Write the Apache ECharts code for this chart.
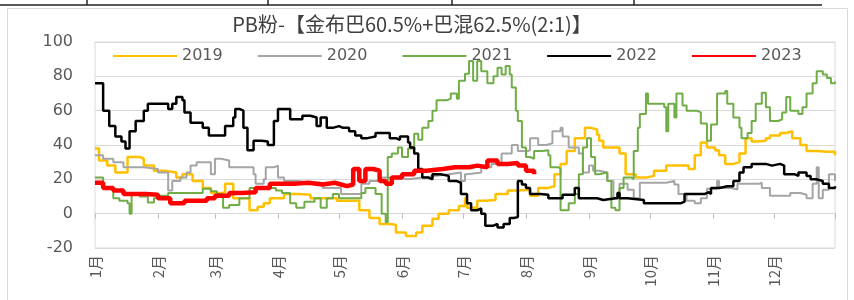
<!DOCTYPE html>
<html>
<head>
<meta charset="utf-8">
<script src="https://cdn.jsdelivr.net/npm/echarts@6/dist/echarts.min.js"></script>
<style>html,body{margin:0;padding:0;background:#fff;}#c{width:854px;height:300px;}</style>
</head>
<body>
<div id="c"></div>
<script>
const titleText = 'PB粉-【金布巴60.5%+巴混62.5%(2:1)】';
const seriesNames = ['2019', '2020', '2021', '2022', '2023'];
const monthLabels = ['1月','2月','3月','4月','5月','6月','7月','8月','9月','10月','11月','12月'];
const monthStarts = [0,31,59,90,120,151,181,212,243,273,304,334];
const yTicks = [-20, 0, 20, 40, 60, 80, 100];
const dayCount = 365;

// [day of year, value]
const s2019 = [[0,38],[2,31],[6,28],[10,24],[15,24],[16,33],[22,32],[24,28],[29,25],[34,24],[40,21],[43,23],[48,19],[53,15],[57,12],[60,12],[64,17.5],[68,9],[73,9],[76,2],[80,4],[83,6],[86,9],[90,9],[93,11.5],[100,11],[106,9],[113,9],[119,7.5],[125,7.5],[130,2],[135,-2.5],[140,-6],[145,-6.5],[148,-11],[153,-13],[158,-11],[161,-7],[166,-3],[169,0],[174,2],[179,4.5],[182,9],[183,3.5],[188,7.5],[192,8],[197,11.5],[203,13.5],[208,14],[214,10.5],[218,15],[223,16],[226,23],[229,29],[232,36.5],[236,44],[241,50],[244,49],[247,46],[248,42.5],[250,38.5],[255,38.5],[258,35],[261,23],[264,23],[266,21],[271,22],[275,25],[281,28],[288,28],[292,26],[295,34],[298,41.5],[301,38.5],[305,37],[307,34],[310,29],[314,30],[317,35],[320,44],[323,42],[325,42.5],[330,44],[332,45.5],[337,47],[340,48],[343,44],[347,40],[350,36.5],[355,36],[360,36],[364,34]];
const s2020 = [[0,34],[4,32],[9,30],[14,27],[20,27],[24,26],[31,24],[35,24],[36,13.5],[38,19],[40,19],[42,21],[45,24],[47,28],[50,30],[55,30],[57,23],[59,32],[62,31],[66,27],[72,27],[78,23],[79,17.5],[83,20],[84,27],[88,28],[90,21],[93,19],[100,18],[106,18],[112,15],[118,15],[121,11.5],[126,11.5],[131,17.5],[135,19],[141,21],[148,20],[154,21],[161,22],[167,23],[174,24],[180,19],[182,23],[183,24],[190,27],[195,29],[200,35],[205,40],[208,36.5],[213,37],[214,44],[218,40],[222,41],[225,48],[229,50],[230,45],[233,38.5],[238,35],[240,24],[243,28],[245,25],[248,24],[252,19],[255,9],[258,17.5],[262,14],[265,9],[268,18],[276,18],[281,19],[285,17],[287,11.5],[291,7.5],[295,6],[298,9],[301,14.5],[306,19],[307,15],[313,14],[316,17.5],[323,17.5],[327,18],[328,15],[332,10.5],[337,10.5],[342,12],[347,11],[350,9],[353,17.5],[355,27],[356,9],[358,14],[361,23],[364,19]];
const s2021 = [[0,21],[4,15],[9,9],[12,7.5],[16,6],[17,0],[18,11.5],[22,10],[26,6.5],[29,9],[32,10.5],[36,12],[43,12],[50,12],[53,14.5],[57,13],[60,11.5],[63,3.5],[66,5],[69,5],[71,9],[76,15],[81,15],[86,15],[89,13.5],[92,12],[96,6],[99,3.5],[103,7],[108,9],[111,3.5],[114,9],[117,11.5],[120,9],[126,9],[131,12],[133,15],[136,15],[138,11.5],[141,0],[143,-5],[144,33],[146,35],[149,38.5],[151,33],[154,38],[157,46.5],[159,43],[161,50],[164,54],[166,60],[168,66],[173,67],[175,70],[178,67],[179,77.5],[182,81.5],[184,89],[186,77.5],[188,89],[190,83],[193,76],[196,80],[198,85],[200,81],[202,86],[204,81],[205,73.5],[207,60],[208,54],[210,38.5],[212,33],[214,32],[216,36.5],[220,37],[223,34],[224,27],[228,26],[229,2],[233,6],[236,11.5],[238,23],[240,38.5],[242,44],[244,33],[246,23],[248,24],[252,19],[254,3.5],[256,2],[258,15],[260,21],[264,20],[265,36.5],[267,50],[268,58],[271,70],[272,64],[280,62],[281,48],[282,64],[285,56],[286,70],[289,63],[291,60],[296,59],[298,52.5],[301,42.5],[303,52],[306,70],[310,71.5],[311,64],[314,56],[317,50],[318,44],[321,47],[323,54],[325,64],[328,70.5],[330,62],[332,54],[336,55],[338,59],[340,68],[342,60],[346,58],[348,62],[350,70],[353,76],[355,83],[358,81],[360,79],[362,76],[364,77]];
const s2022 = [[0,76],[4,60],[7,51],[10,45],[13,42],[15,38],[17,48],[20,54],[22,54],[24,60],[26,64],[35,64],[36,61],[38,64],[40,68],[43,66],[44,59],[47,53],[50,53],[53,50],[56,45.5],[60,45.5],[64,51],[68,56],[69,61],[71,60],[73,50],[75,37],[78,42.5],[82,42],[85,40],[88,54],[90,61],[95,61],[96,55],[100,55],[102,57],[106,56],[109,51],[111,56],[114,50],[117,51],[120,50],[122,50],[125,48],[128,45.5],[131,44],[134,45],[138,47],[141,47],[145,44],[148,43],[150,45],[154,41.5],[155,38.5],[157,35],[159,26],[161,21],[164,20],[166,23],[170,22],[174,19],[178,18],[180,11.5],[183,6],[185,2],[188,3],[190,0],[192,-7],[196,-6],[198,-8],[201,-6],[204,-2.5],[206,-2],[208,19],[210,17],[212,15],[214,11.5],[219,11],[223,9],[230,11],[235,11],[236,15],[238,9],[247,8],[250,9],[256,9],[257,12],[258,9],[262,8],[270,6],[285,6],[288,7],[290,11.5],[295,11.5],[300,12.5],[302,11.5],[303,15],[307,16],[311,16],[314,19],[317,24],[319,27],[323,29],[330,28],[333,29],[337,28],[339,23],[344,22],[346,24],[350,22],[352,20],[355,19],[358,17.5],[361,15],[364,16]];
const s2023 = [[0,18],[4,15],[9,13.5],[14,11.5],[20,11.5],[25,11],[31,9],[37,6],[44,7.5],[50,7.5],[55,9],[59,10.5],[66,12],[72,12.5],[79,15],[86,17.5],[92,17.5],[99,18],[105,17],[112,18],[118,17],[121,16],[124,17],[127,26],[130,19],[133,26],[137,25],[140,19],[143,17.5],[146,21],[151,23],[157,25],[163,26],[171,27],[177,27],[184,28],[188,27],[193,31],[198,29],[203,29.5],[208,28],[212,25],[216,23]];

const seriesData = [s2019, s2020, s2021, s2022, s2023];
const colors = ['#FFC000', '#A5A5A5', '#70AD47', '#000000', '#FF0000'];
const widths = [2.5, 2, 2, 2.5, 4.5];

const categories = [];
for (let i = 0; i < dayCount; i++) categories.push('d' + i);

const chart = echarts.init(document.getElementById('c'), null, { renderer: 'canvas' });
chart.setOption({
  animation: false,
  backgroundColor: '#fff',
  title: {
    text: titleText,
    left: 407,
    textAlign: 'center',
    top: 9,
    textStyle: { fontFamily: 'Noto Sans CJK SC', fontSize: 20, fontWeight: 'normal', color: '#404040' }
  },
  legend: {
    data: seriesNames,
    left: 107,
    top: 43,
    itemWidth: 64,
    itemHeight: 12,
    itemGap: 34,
    itemStyle: { opacity: 0 },
    textStyle: { fontFamily: 'DejaVu Sans', fontSize: 16, color: '#595959' }
  },
  grid: {
    left: 95, right: 19, top: 42, bottom: 52,
    containLabel: false,
    outerBoundsMode: 'none',
    show: true, borderColor: '#d9d9d9', borderWidth: 1
  },
  xAxis: {
    type: 'category',
    data: categories,
    boundaryGap: false,
    axisLine: { onZero: true, lineStyle: { color: '#d9d9d9' } },
    axisTick: {
      show: true, length: 5, lineStyle: { color: '#bfbfbf' },
      interval: (idx) => monthStarts.indexOf(idx) >= 0 || idx === dayCount - 1
    },
    axisLabel: {
      interval: (idx) => monthStarts.indexOf(idx) >= 0,
      formatter: (val, idx) => {
        const m = monthStarts.indexOf(idx);
        return m >= 0 ? monthLabels[m] : '';
      },
      rotate: 90,
      margin: 7,
      fontFamily: 'Noto Sans CJK SC',
      fontSize: 15,
      color: '#595959'
    },
    splitLine: { show: false }
  },
  yAxis: {
    type: 'value',
    min: yTicks[0],
    max: yTicks[yTicks.length - 1],
    interval: 20,
    axisLine: { show: false },
    axisTick: { show: false },
    axisLabel: { margin: 22, fontFamily: 'DejaVu Sans', fontSize: 16, color: '#595959' },
    splitLine: { lineStyle: { color: '#d9d9d9', width: 1 } }
  },
  graphic: [
    { type: 'rect', shape: { x: 7.5, y: 8.5, width: 840, height: 295 }, style: { fill: 'none', stroke: '#d9d9d9', lineWidth: 1 }, silent: true, z: -10 },
    { type: 'line', shape: { x1: 0, y1: 5, x2: 822, y2: 5 }, style: { stroke: '#222', lineWidth: 1.5 }, silent: true },
    { type: 'line', shape: { x1: 87, y1: 0, x2: 87, y2: 5 }, style: { stroke: '#222', lineWidth: 1.5 }, silent: true },
    { type: 'line', shape: { x1: 268, y1: 0, x2: 268, y2: 5 }, style: { stroke: '#222', lineWidth: 1.5 }, silent: true },
    { type: 'line', shape: { x1: 452, y1: 0, x2: 452, y2: 5 }, style: { stroke: '#222', lineWidth: 1.5 }, silent: true },
    { type: 'line', shape: { x1: 634, y1: 0, x2: 634, y2: 5 }, style: { stroke: '#222', lineWidth: 1.5 }, silent: true }
  ],
  series: seriesNames.map((name, i) => ({
    name: name,
    type: 'line',
    step: 'end',
    symbol: 'none',
    data: seriesData[i],
    itemStyle: { color: colors[i] },
    lineStyle: { color: colors[i], width: widths[i] },
    z: 2 + i
  }))
});
</script>
</body>
</html>
